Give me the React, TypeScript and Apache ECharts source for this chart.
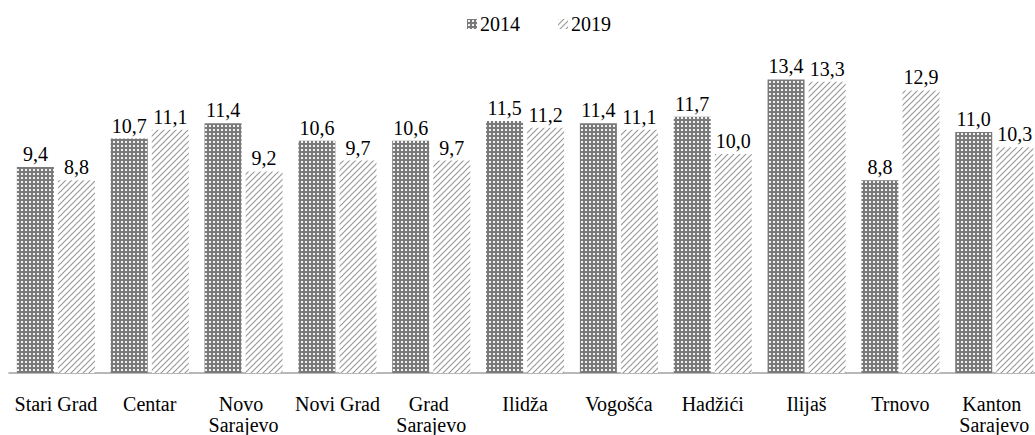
import React, { useEffect, useRef } from "react";
import * as echarts from "echarts";

const categories = [
  "Stari Grad",
  "Centar",
  "Novo Sarajevo",
  "Novi Grad",
  "Grad Sarajevo",
  "Ilidža",
  "Vogošća",
  "Hadžići",
  "Ilijaš",
  "Trnovo",
  "Kanton Sarajevo",
];
const values2014 = [9.4, 10.7, 11.4, 10.6, 10.6, 11.5, 11.4, 11.7, 13.4, 8.8, 11.0];
const values2019 = [8.8, 11.1, 9.2, 9.7, 9.7, 11.2, 11.1, 10.0, 13.3, 12.9, 10.3];
const seriesNames = ["2014", "2019"];

const FONT = "Liberation Serif";

function makeDotPattern() {
  const c = document.createElement("canvas");
  c.width = 4;
  c.height = 4;
  const ctx = c.getContext("2d")!;
  ctx.fillStyle = "#7a7a7a";
  ctx.fillRect(0, 0, 4, 4);
  ctx.fillStyle = "#f2f2f2";
  ctx.fillRect(1, 1, 2, 2);
  return { image: c, repeat: "repeat", imageWidth: 4, imageHeight: 4 };
}

function makeDiagPattern() {
  const s = 6;
  const c = document.createElement("canvas");
  c.width = s;
  c.height = s;
  const ctx = c.getContext("2d")!;
  ctx.fillStyle = "#ffffff";
  ctx.fillRect(0, 0, s, s);
  ctx.strokeStyle = "#9a9a9a";
  ctx.lineWidth = 1.2;
  ctx.beginPath();
  ctx.moveTo(-1, s + 1);
  ctx.lineTo(s + 1, -1);
  ctx.moveTo(-1, 1);
  ctx.lineTo(1, -1);
  ctx.moveTo(s - 1, s + 1);
  ctx.lineTo(s + 1, s - 1);
  ctx.stroke();
  return { image: c, repeat: "repeat", imageWidth: s, imageHeight: s };
}

const fmt = (p: any) => String(Number(p.value).toFixed(1)).replace(".", ",");

export default function App() {
  const ref = useRef<HTMLDivElement>(null);
  useEffect(() => {
    if (!ref.current) return;
    const chart = echarts.init(ref.current, undefined, { renderer: "svg" });
    const dot = makeDotPattern();
    const diag = makeDiagPattern();
    const labelStyle = {
      show: true,
      position: "top" as const,
      distance: 3,
      formatter: fmt,
      color: "#000",
      fontFamily: FONT,
      fontSize: 20,
    };
    chart.setOption({
      animation: false,
      textStyle: { fontFamily: FONT },
      legend: {
        top: 9,
        left: 462,
        itemWidth: 10,
        itemHeight: 10,
        itemGap: 38,
        icon: "rect",
        textStyle: { fontFamily: FONT, fontSize: 20, color: "#000", padding: [0, 0, 0, -2] },
        data: seriesNames,
      },
      grid: { left: 9, right: 0, top: 44.4, bottom: 57.5, containLabel: false },
      xAxis: {
        type: "category",
        data: categories,
        axisLine: { lineStyle: { color: "#a0a0a0", width: 1.5 } },
        axisTick: { show: false },
        axisLabel: {
          interval: 0,
          margin: 20,
          color: "#000",
          fontFamily: FONT,
          fontSize: 20,
          lineHeight: 21,
          width: 100,
          overflow: "break",
        },
      },
      yAxis: {
        type: "value",
        min: 0,
        max: 15,
        show: false,
        splitLine: { show: false },
      },
      series: [
        {
          name: seriesNames[0],
          type: "bar",
          data: values2014,
          barWidth: 37,
          barGap: "11%",
          itemStyle: { color: dot as any },
          label: labelStyle,
        },
        {
          name: seriesNames[1],
          type: "bar",
          data: values2019,
          barWidth: 37,
          barGap: "11%",
          itemStyle: { color: diag as any },
          label: labelStyle,
        },
      ],
    });
    return () => chart.dispose();
  }, []);
  return (
    <div
      style={{
        position: "absolute",
        left: 0,
        top: 0,
        width: 1035,
        height: 435,
        overflow: "hidden",
        background: "#fff",
      }}
    >
      <div ref={ref} style={{ width: 1047, height: 435 }} />
    </div>
  );
}
